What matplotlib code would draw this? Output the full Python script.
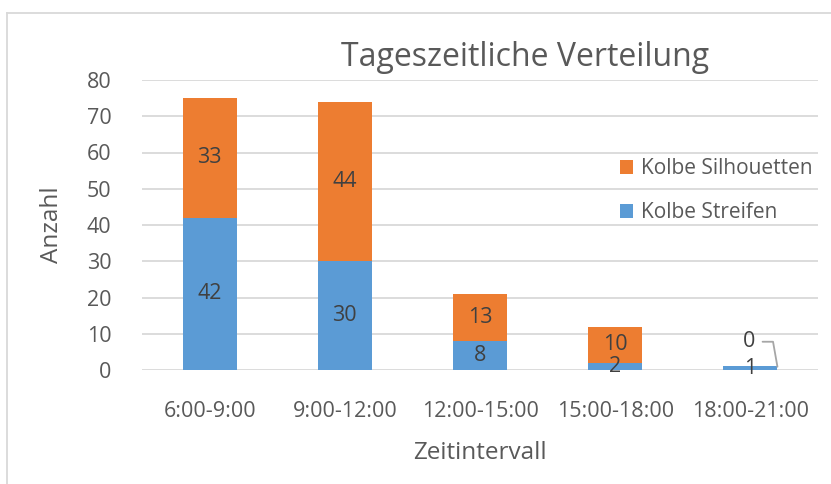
import matplotlib
matplotlib.use("Agg")
import matplotlib.pyplot as plt
from matplotlib.patches import Patch
from matplotlib.lines import Line2D

categories = ["6:00-9:00", "9:00-12:00", "12:00-15:00", "15:00-18:00", "18:00-21:00"]
streifen = [42, 30, 8, 2, 1]
silhouetten = [33, 44, 13, 10, 0]
yticks = [0, 10, 20, 30, 40, 50, 60, 70, 80]

BLUE = "#5B9BD5"
ORANGE = "#ED7D31"
GRID = "#D9D9D9"
TXT = "#595959"
LBL = "#404040"

plt.rcParams['font.family'] = ['Open Sans', 'DejaVu Sans']

W, H = 831, 484
fig = plt.figure(figsize=(W / 100, H / 100), dpi=100)
ax = fig.add_axes([142 / W, 1 - 370 / H, (818 - 142) / W, (370 - 80) / H])

x = list(range(len(categories)))
bw = 0.4
b1 = ax.bar(x, streifen, width=bw, color=BLUE, zorder=3, label="Kolbe Streifen")
b2 = ax.bar(x, silhouetten, width=bw, bottom=streifen, color=ORANGE, zorder=3,
            label="Kolbe Silhouetten")

ax.set_xlim(-0.5, len(categories) - 0.5)
ax.set_ylim(0, 80)
ax.set_yticks(yticks)
ax.set_yticklabels([str(v) for v in yticks])
ax.set_xticks(x)
ax.set_xticklabels(categories)
ax.yaxis.grid(True, color=GRID, linewidth=1.3, zorder=0)
ax.set_axisbelow(True)
for s in ax.spines.values():
    s.set_visible(False)
ax.tick_params(axis='both', length=0, labelsize=15.5, labelcolor=TXT)
ax.tick_params(axis='x', pad=22)
ax.tick_params(axis='y', pad=22)

# data labels
for i in x:
    ax.text(i, streifen[i] / 2, str(streifen[i]), ha='center', va='center',
            fontsize=15.5, color=LBL, zorder=5)
    if silhouetten[i] > 0:
        ax.text(i, streifen[i] + silhouetten[i] / 2, str(silhouetten[i]), ha='center',
                va='center', fontsize=15.5, color=LBL, zorder=5)
    else:
        ax.annotate(str(silhouetten[i]), xy=(i + bw / 2, streifen[i] - 0.1),
                    xytext=(-28, 25), textcoords='offset pixels',
                    ha='center', va='center', fontsize=15.5, color=LBL, zorder=5,
                    arrowprops=dict(arrowstyle='-', color='#A6A6A6', lw=1.3,
                                    shrinkA=3, shrinkB=0,
                                    connectionstyle='angle,angleA=0,angleB=100,rad=0'))

ax.set_xlabel("Zeitintervall", fontsize=17.5, color=TXT, labelpad=14)
ax.set_ylabel("Anzahl", fontsize=17.5, color=TXT, labelpad=16)

fig.text(525 / W, 1 - 57 / H, "Tageszeitliche Verteilung", ha='center', va='center',
         fontsize=23, color=TXT)

handles = [Patch(facecolor=ORANGE, edgecolor='none'), Patch(facecolor=BLUE, edgecolor='none')]
labels = ["Kolbe Silhouetten", "Kolbe Streifen"]
leg = ax.legend(handles, labels, loc='upper left', bbox_to_anchor=(612 / W, 1 - 150 / H),
                bbox_transform=fig.transFigure, frameon=False, fontsize=15,
                handlelength=0.6, handleheight=0.6, handletextpad=0.4,
                labelspacing=1.1, borderaxespad=0, labelcolor=TXT)

# outer chart border (top and left visible)
fig.add_artist(Line2D([7 / W, 1.0], [1 - 12.5 / H, 1 - 12.5 / H], color=GRID, lw=1.3,
                      transform=fig.transFigure))
fig.add_artist(Line2D([7 / W, 7 / W], [0.0, 1 - 12.5 / H], color=GRID, lw=1.3,
                      transform=fig.transFigure))

fig.savefig("out.png", dpi=100, facecolor='white')
